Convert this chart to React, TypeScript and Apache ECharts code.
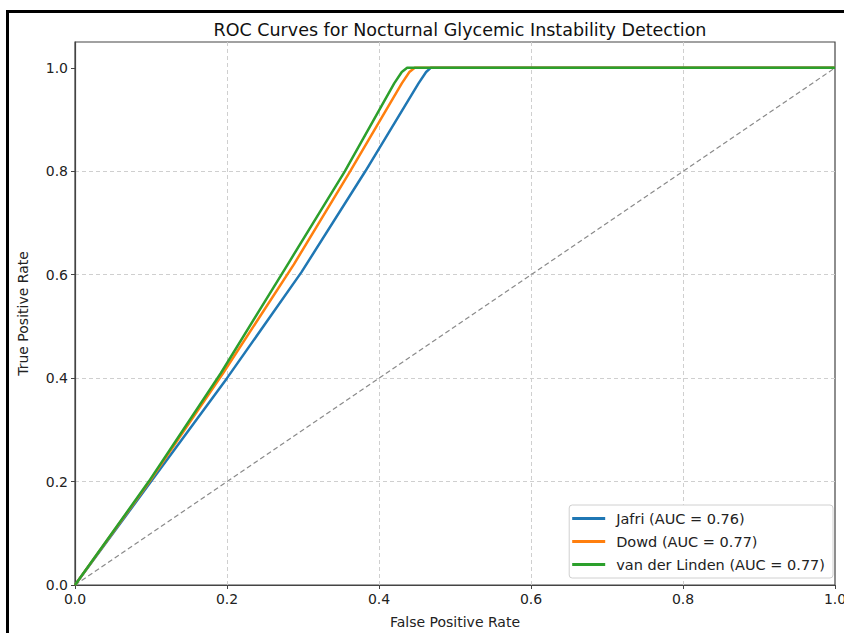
import React, { useEffect, useRef } from "react";
import * as echarts from "echarts";

const titleText = "ROC Curves for Nocturnal Glycemic Instability Detection";
const xName = "False Positive Rate";
const yName = "True Positive Rate";
const tickValues = [0, 0.2, 0.4, 0.6, 0.8, 1.0];

const seriesNames = ["Jafri (AUC = 0.76)", "Dowd (AUC = 0.77)", "van der Linden (AUC = 0.77)"];
const seriesColors = ["#1f77b4", "#ff7f0e", "#2ca02c"];

const jafriFpr = [0, 0.1, 0.2, 0.298, 0.382, 0.452, 0.462, 0.468, 1];
const jafriTpr = [0, 0.2, 0.4, 0.605, 0.8, 0.97, 0.992, 1.0, 1];
const dowdFpr = [0, 0.098, 0.195, 0.288, 0.362, 0.43, 0.44, 0.447, 1];
const dowdTpr = [0, 0.2, 0.41, 0.62, 0.8, 0.97, 0.992, 1.0, 1];
const lindenFpr = [0, 0.097, 0.192, 0.282, 0.355, 0.42, 0.43, 0.437, 1];
const lindenTpr = [0, 0.2, 0.41, 0.625, 0.8, 0.97, 0.992, 1.0, 1];
const chanceFpr = [0, 1];
const chanceTpr = [0, 1];

const zip = (a: number[], b: number[]) => a.map((v, i) => [v, b[i]]);

export default function App() {
  const ref = useRef<HTMLDivElement>(null);
  useEffect(() => {
    if (!ref.current) return;
    const chart = echarts.init(ref.current, null, { renderer: "svg" });
    const font = "DejaVu Sans";
    const curves = [zip(jafriFpr, jafriTpr), zip(dowdFpr, dowdTpr), zip(lindenFpr, lindenTpr)];
    chart.setOption({
      animation: false,
      backgroundColor: "#fff",
      title: {
        text: titleText,
        left: 455,
        textAlign: "center",
        top: 16,
        textStyle: { fontFamily: font, fontSize: 17.5, fontWeight: "normal", color: "#111" },
      },
      grid: {
        left: 75,
        right: 9,
        top: 42,
        bottom: 48,
        outerBoundsMode: "none",
        containLabel: false,
        show: true,
        borderColor: "#444",
        borderWidth: 1.2,
        backgroundColor: "transparent",
      },
      legend: {
        data: seriesNames,
        orient: "vertical",
        right: 11,
        bottom: 55,
        backgroundColor: "#fff",
        borderColor: "#d0d0d0",
        borderWidth: 1,
        borderRadius: 3,
        padding: [6, 8, 6, 3],
        itemGap: 8,
        itemWidth: 33,
        itemHeight: 3,
        icon: "rect",
        textStyle: { fontFamily: font, fontSize: 14.5, color: "#222", padding: [0, 0, 0, 6] },
      },
      xAxis: {
        type: "value",
        min: 0,
        max: 1,
        interval: 0.2,
        name: xName,
        nameLocation: "middle",
        nameGap: 30,
        nameTextStyle: { fontFamily: font, fontSize: 14, color: "#222" },
        axisLine: { show: true, onZero: false, lineStyle: { color: "#444", width: 1.2 } },
        axisTick: { show: true, inside: false, length: 4, lineStyle: { color: "#444" } },
        axisLabel: {
          fontFamily: font,
          fontSize: 14,
          color: "#222",
          margin: 7,
          formatter: (v: number) => v.toFixed(1),
        },
        splitLine: {
          show: true,
          showMinLine: false,
          showMaxLine: false,
          lineStyle: { color: "#cfcfcf", type: [4, 3], width: 1 },
        },
      },
      yAxis: {
        type: "value",
        min: 0,
        max: 1.05,
        name: yName,
        nameLocation: "middle",
        nameGap: 45,
        nameTextStyle: { fontFamily: font, fontSize: 14, color: "#222" },
        axisLine: { show: true, onZero: false, lineStyle: { color: "#444", width: 1.2 } },
        axisTick: { show: true, length: 4, customValues: tickValues, lineStyle: { color: "#444" } },
        axisLabel: {
          fontFamily: font,
          fontSize: 14,
          color: "#222",
          margin: 7,
          customValues: tickValues,
          formatter: (v: number) => v.toFixed(1),
        },
        splitLine: {
          show: true,
          showMinLine: false,
          showMaxLine: false,
          lineStyle: { color: "#cfcfcf", type: [4, 3], width: 1 },
        },
      },
      series: [
        {
          name: "chance",
          type: "line",
          data: zip(chanceFpr, chanceTpr),
          symbol: "none",
          lineStyle: { color: "#8a8a8a", width: 1.2, type: [5, 3] },
          z: 1,
        },
        ...curves.map((d, i) => ({
          name: seriesNames[i],
          type: "line",
          data: d,
          symbol: "none",
          smooth: false,
          lineStyle: { color: seriesColors[i], width: 2.5 },
          itemStyle: { color: seriesColors[i] },
          z: 2 + i,
        })),
      ],
      graphic: [
        { type: "rect", shape: { x: 6, y: 10, width: 3, height: 623 }, style: { fill: "#000" } },
        { type: "rect", shape: { x: 6, y: 10, width: 838, height: 3 }, style: { fill: "#000" } },
      ],
    });
    return () => chart.dispose();
  }, []);
  return (
    <div style={{ position: "fixed", left: 0, top: 0, width: 844, height: 633, background: "#fff" }}>
      <div ref={ref} style={{ width: 844, height: 633 }} />
    </div>
  );
}
